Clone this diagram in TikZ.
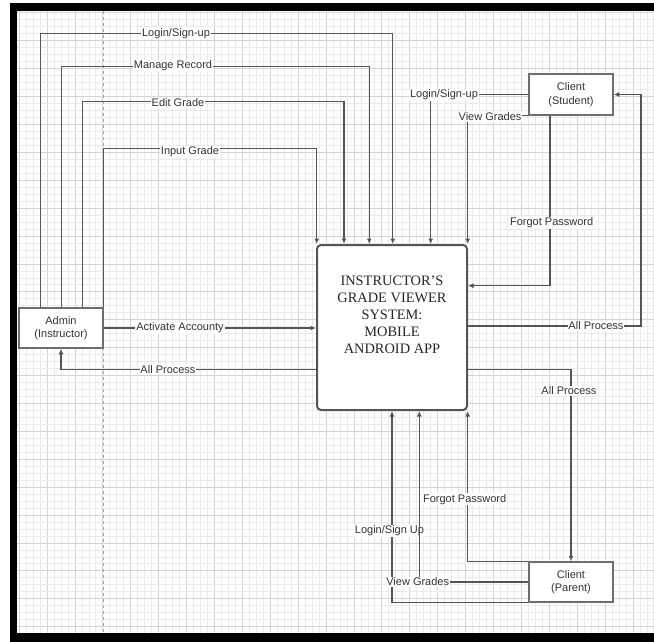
\documentclass[tikz,border=0pt]{standalone}
\usepackage{fontspec}
\setmainfont{Liberation Serif}
\newfontfamily\lblfont{Liberation Sans}
\usetikzlibrary{arrows.meta,calc}
\definecolor{edgecol}{HTML}{555555}
\definecolor{boxcol}{HTML}{6E6E6E}
\definecolor{txtcol}{HTML}{333333}
\definecolor{minorgrid}{HTML}{EAEAEA}
\definecolor{majorgrid}{HTML}{D4D4D4}
\begin{document}
\begin{tikzpicture}[x=1pt,y=-1pt,
  flow/.style={draw=edgecol,line width=1.1pt,-{Latex[length=5.5pt,width=5pt]}},
  entity/.style={draw=boxcol,line width=1.5pt,fill=white,minimum width=84pt,minimum height=40pt,inner sep=0pt,align=center,text=txtcol,font=\lblfont\fontsize{11}{13.4}\selectfont},
  sysbox/.style={draw=edgecol,line width=2pt,fill=white,rounded corners=4pt,minimum width=150pt,minimum height=165pt,inner sep=0pt},
  lbl/.style={fill=white,inner sep=0.8pt,text=txtcol,font=\lblfont\fontsize{11}{13}\selectfont}]
\useasboundingbox (0,0) rectangle (654,642);
\fill[white] (0,0) rectangle (654,642);
% grid
\foreach \i in {0,...,91}{
  \pgfmathsetmacro\xx{19.1+6.975*\i}
  \pgfmathtruncatemacro\mm{mod(\i,4)}
  \ifnum\mm=0
    \draw[majorgrid,line width=0.8pt] (\xx,11) -- (\xx,633);
  \else
    \draw[minorgrid,line width=0.7pt] (\xx,11) -- (\xx,633);
  \fi
}
\foreach \j in {0,...,88}{
  \pgfmathsetmacro\yy{12.8+6.975*\j}
  \pgfmathtruncatemacro\mm{mod(\j,4)}
  \ifnum\mm=0
    \draw[majorgrid,line width=0.8pt] (17,\yy) -- (654,\yy);
  \else
    \draw[minorgrid,line width=0.7pt] (17,\yy) -- (654,\yy);
  \fi
}
\draw[gray!70,line width=0.9pt,dash pattern=on 3pt off 3pt] (103.5,11) -- (103.5,633);

% nodes
\node[entity] (admin) at (61,328) {Admin\\(Instructor)};
\node[entity,minimum height=41pt] (student) at (571,94.5) {Client\\(Student)};
\node[entity] (parent) at (571,582) {Client\\(Parent)};
\node[sysbox] (main) at (392,327.5) {};
\node[align=center,font=\fontsize{14.4}{16.9}\selectfont,text=black!85] (maintext) at (392,314.5)
  {INSTRUCTOR’S\\GRADE VIEWER\\SYSTEM:\\MOBILE\\ANDROID APP};

% bend coordinates
\coordinate (c1) at (392.7,33.3);
\coordinate (c2) at (369.3,66.7);
\coordinate (c3) at (344,101.7);
\coordinate (c4) at (316.7,148.3);
\coordinate (c6) at (0,369.3);
\coordinate (c7) at (430.7,0);
\coordinate (c8) at (467.7,0);
\coordinate (c9) at (0,285.7);
\coordinate (c10) at (641,326);
\coordinate (c11) at (0,369.3);
\coordinate (c13) at (419.3,0);

% admin edges
\draw[flow] ([xshift=-20.3pt]admin.north) |- (c1) -- (c1 |- main.north);
\node[lbl] (l1) at (176,33.3) {Login/Sign-up};
\draw[flow] ([xshift=0.7pt]admin.north) |- (c2) -- (c2 |- main.north);
\node[lbl] (l2) at (173,66) {Manage Record};
\draw[flow] ([xshift=21.7pt]admin.north) |- (c3) -- (c3 |- main.north);
\node[lbl] (l3) at (178,103) {Edit Grade};
\draw[flow] (admin.north east) |- (c4) -- (c4 |- main.north);
\node[lbl] (l4) at (190,152) {Input Grade};
\draw[flow] (admin.east) -- (admin.east -| main.west);
\node[lbl] (l5) at (180,327.8) {Activate Accounty};
\draw[flow] (main.west |- c6) -| (admin.south);
\node[lbl] (l6) at (168,369.3) {All Process};

% student edges
\draw[flow] (student.west) -| (c7 |- main.north);
\node[lbl] (l7) at (444,95) {Login/Sign-up};
\draw[flow] (student.south west) -| (c8 |- main.north);
\node[lbl] (l8) at (490,117) {View Grades};
\draw[flow] ([xshift=-21pt]student.south) |- (main.east |- c9);
\node[lbl] (l9) at (551.7,222.7) {Forgot Password};
\draw[flow] (main.east |- c10) -- (c10) |- (student.east);
\node[lbl] (l10) at (596,326) {All Process};

% parent edges
\draw[flow] (main.east |- c11) -| (parent.north);
\node[lbl] (l11) at (569,390.7) {All Process};
\draw[flow] (parent.north west) -| (c8 |- main.south);
\node[lbl] (l14) at (464.7,499.3) {Forgot Password};
\draw[flow] (parent.south west) -| (main.south);
\node[lbl] (l12) at (389.5,530.7) {Login/Sign Up};
\draw[flow] (parent.west) -| (c13 |- main.south);
\node[lbl] (l13) at (417.7,581.7) {View Grades};

% black frame
\fill[black] (10,3) rectangle (654,11);
\fill[black] (10,3) rectangle (17,642);
\fill[black] (10,633) rectangle (654,642);
\end{tikzpicture}
\end{document}
